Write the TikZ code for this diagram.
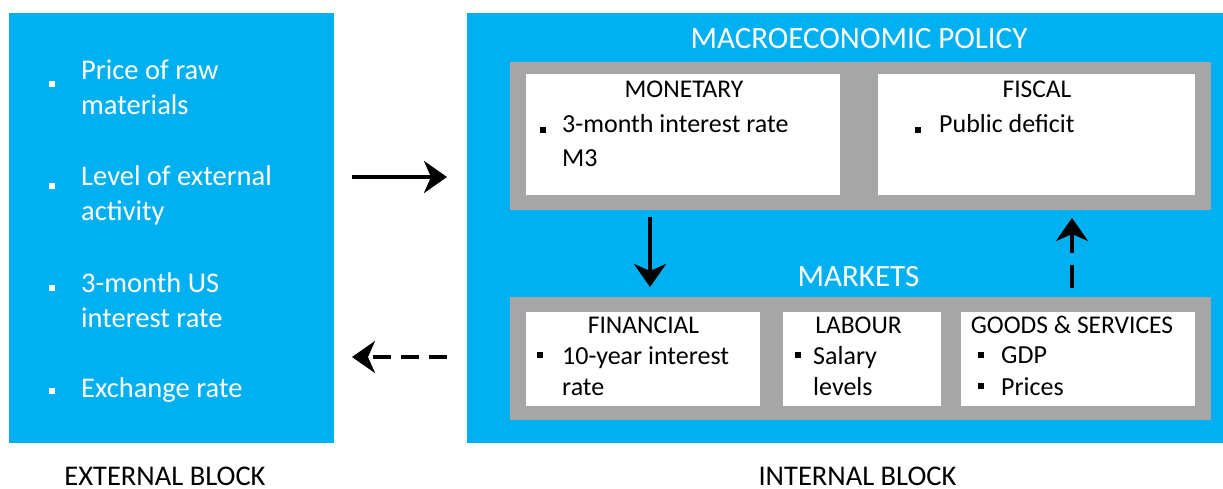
\documentclass[tikz,border=0pt]{standalone}
\usepackage{fontspec}
\setmainfont{Carlito}
\usetikzlibrary{arrows.meta}
\definecolor{skyblue}{HTML}{00B0F0}
\definecolor{bargray}{HTML}{A6A6A6}
\newcommand{\fsz}[2]{\fontsize{#1}{#2}\selectfont}

\begin{document}
\begin{tikzpicture}[x=1pt, y=-1pt, >={Stealth[length=23pt, width=32pt, inset=7pt]},
	panel/.style={rectangle, inner sep=0pt, outer sep=0pt, anchor=north west},
	sqw/.style={rectangle, fill=white, inner sep=0pt, minimum size=6pt},
	sqb/.style={rectangle, fill=black, inner sep=0pt, minimum size=6pt},
	exttxt/.style={inner sep=0pt, anchor=base west, align=left, text=white, font=\fsz{28.5}{35}},
	head/.style={inner sep=0pt, anchor=base, font=\fsz{25.5}{31}},
	itm/.style={inner sep=0pt, anchor=base west, align=left, font=\fsz{26}{31}},
	title/.style={inner sep=0pt, anchor=base, text=white, font=\fsz{31}{36}},
	caption/.style={inner sep=0pt, anchor=base, font=\fsz{28.5}{34}},
	arr/.style={->, line width=3.5pt}]
	\useasboundingbox (0,0) rectangle (1223,489);
	% blocks
	\node[panel, fill=skyblue, minimum width=325pt, minimum height=430pt] (ext) at (9,13) {};
	\node[panel, fill=skyblue, minimum width=756pt, minimum height=430pt] (int) at (467,13) {};
	\node[panel, fill=bargray, minimum width=701pt, minimum height=148pt] (policy) at (510,62) {};
	\node[panel, fill=bargray, minimum width=701pt, minimum height=123pt] (markets) at (510,297) {};
	\node[panel, fill=white, minimum width=314pt, minimum height=121pt] (mon) at (526,74) {};
	\node[panel, fill=white, minimum width=317pt, minimum height=121pt] (fis) at (878,74) {};
	\node[panel, fill=white, minimum width=234pt, minimum height=94pt] (fin) at (526,312) {};
	\node[panel, fill=white, minimum width=158pt, minimum height=94pt] (lab) at (783,312) {};
	\node[panel, fill=white, minimum width=234pt, minimum height=94pt] (goo) at (961,312) {};

	% external items (base = last line)
	\node[sqw] (eb1) at (51.5,84) {};
	\node[exttxt] (et1) at (81,115) {Price of raw\\materials};
	\node[sqw] (eb2) at (51.5,186) {};
	\node[exttxt] (et2) at (81,220) {Level of external\\activity};
	\node[sqw] (eb3) at (51.5,288) {};
	\node[exttxt] (et3) at (81,327) {3-month US\\interest rate};
	\node[sqw] (eb4) at (51.5,391) {};
	\node[exttxt] (et4) at (81,397) {Exchange rate};

	% titles
	\node[title] (tpol) at (859,49) {MACROECONOMIC POLICY};
	\node[title] (tmar) at (858.5,286) {MARKETS};
	\node[head] (hmon) at (684,98) {MONETARY};
	\node[head] (hfis) at (1037,98) {FISCAL};
	\node[head] (hfin) at (643.5,333) {FINANCIAL};
	\node[head] (hlab) at (858.5,333) {LABOUR};
	\node[head] (hgoo) at (1072,333) {GOODS \& SERVICES};

	% inner items
	\node[sqb] (mb1) at (543,130) {};
	\node[itm, font=\fsz{26}{34}] (mt1) at (562,167) {3-month interest rate\\M3};
	\node[sqb] (fb1) at (918,130) {};
	\node[itm] (ft1) at (939,133) {Public deficit};
	\node[sqb] (nb1) at (540,355) {};
	\node[itm] (nt1) at (562,395) {10-year interest\\rate};
	\node[sqb] (lb1) at (798,355) {};
	\node[itm] (lt1) at (813,395) {Salary\\levels};
	\node[sqb] (gb1) at (981,355) {};
	\node[itm] (gt1) at (1001,363) {GDP};
	\node[sqb] (gb2) at (981,386) {};
	\node[itm] (gt2) at (1001,395) {Prices};

	% captions
	\node[caption] (cext) at (165,485) {EXTERNAL BLOCK};
	\node[caption] (cint) at (857.5,485) {INTERNAL BLOCK};

	% arrows
	\coordinate (a1) at (352,177);
	\coordinate (a2) at (447,177);
	\coordinate (b1) at (447,357);
	\coordinate (b2) at (352,357);
	\coordinate (c1) at (650,217);
	\coordinate (c2) at (650,287);
	\coordinate (d1) at (1072,288);
	\coordinate (d2) at (1072,218);
	\draw[arr] (a1) -- (a2);
	\draw[arr, dash pattern=on 18pt off 10pt] (b1) -- (b2);
	\draw[arr] (c1) -- (c2);
	\draw[arr, dash pattern=on 23pt off 12pt] (d1) -- (d2);
\end{tikzpicture}
\end{document}
